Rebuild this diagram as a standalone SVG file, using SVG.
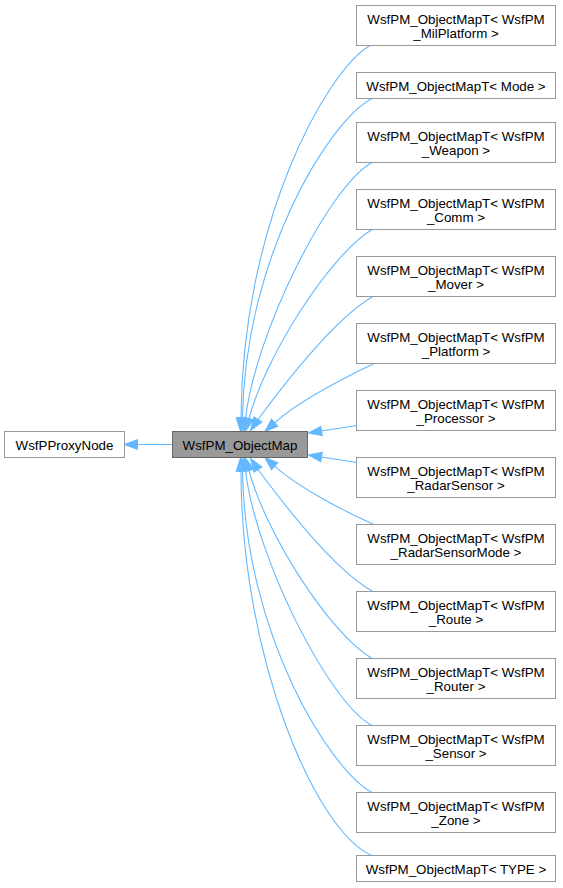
<svg xmlns="http://www.w3.org/2000/svg" width="563" height="888" viewBox="0 0 563 888">
<style>
.n rect{fill:#ffffff;stroke:#999999;stroke-width:1}
#main rect{fill:#999999;stroke:#666666}
text{font-family:"Liberation Sans",Arial,Helvetica,sans-serif;font-size:13.33px;fill:#000000;text-anchor:middle}
.e path{fill:none;stroke:#63b8ff;stroke-width:1.1}
.e polygon{fill:#63b8ff;stroke:#63b8ff;stroke-width:1.1}
</style>
<rect width="563" height="888" fill="#ffffff"/>
<g class="e" id="edges">
<path d="M172.5,444.5 L137.5,444.5"/><polygon points="137.5,439.8 124.5,444.5 137.5,449.2"/>
<path d="M370,45.5 C325,72 242,225 241,418"/><polygon points="236.3,417.8 240.5,431 245.7,418.2"/>
<path d="M372,98.5 C330,120 245,255 242.5,418"/><polygon points="237.8,417.6 241.5,431 247.2,418.4"/>
<path d="M372,162.5 C330,185 256,330 245.5,418.5"/><polygon points="240.9,417.8 243.5,431.5 250.1,419.2"/>
<path d="M372,229.5 C330,255 266,355 249,418.5"/><polygon points="244.5,417.2 245.5,431 253.5,419.8"/>
<path d="M373,296.5 C335,318 285,383 258,419.5"/><polygon points="254.1,416.9 250.5,430.5 261.9,422.1"/>
<path d="M374,363.5 C350,375 300,400 274.6,422.8"/><polygon points="271.5,419.3 265,431.5 277.7,426.3"/>
<path d="M356.5,425.5 L321.5,431"/><polygon points="320.8,426.4 308.5,433 322.2,435.6"/>
<path d="M356.5,462.5 L321.5,457"/><polygon points="322.2,452.4 308.5,455 320.8,461.6"/>
<path d="M374,524.5 C350,514 300,489 274.6,466.2"/><polygon points="271.5,469.7 265,457.5 277.7,462.7"/>
<path d="M373,591.5 C335,571 285,506 258,469.5"/><polygon points="254.1,472.1 250.5,458.5 261.9,466.9"/>
<path d="M372,658.5 C330,634 266,534 249,470.5"/><polygon points="244.5,471.8 245.5,458 253.5,469.2"/>
<path d="M372,725.5 C330,704 256,559 245.5,470.5"/><polygon points="240.9,471.2 243.5,457.5 250.1,469.8"/>
<path d="M372,792.5 C330,770 245,634 242.5,471"/><polygon points="237.8,471.4 241.5,458 247.2,470.6"/>
<path d="M372,855.5 C317,833 241,660 241,471"/><polygon points="245.7,470.8 240.5,458 236.3,471.2"/>
</g>
<g class="n" id="proxy"><rect x="4.5" y="431.5" width="120" height="26"/><text x="64.5" y="449.5">WsfPProxyNode</text></g>
<g class="n" id="main"><rect x="172.5" y="431.5" width="135" height="26"/><text x="240" y="449.5">WsfPM_ObjectMap</text></g>
<g class="n" id="n1"><rect x="356.5" y="5.5" width="199" height="40"/><text x="456" y="23.8">WsfPM_ObjectMapT&lt; WsfPM</text><text x="456" y="38.3">_MilPlatform &gt;</text></g>
<g class="n" id="n2"><rect x="356.5" y="72.5" width="199" height="26"/><text x="456" y="90.8">WsfPM_ObjectMapT&lt; Mode &gt;</text></g>
<g class="n" id="n3"><rect x="356.5" y="122.5" width="199" height="40"/><text x="456" y="140.8">WsfPM_ObjectMapT&lt; WsfPM</text><text x="456" y="155.3">_Weapon &gt;</text></g>
<g class="n" id="n4"><rect x="356.5" y="189.5" width="199" height="40"/><text x="456" y="207.8">WsfPM_ObjectMapT&lt; WsfPM</text><text x="456" y="222.3">_Comm &gt;</text></g>
<g class="n" id="n5"><rect x="356.5" y="256.5" width="199" height="40"/><text x="456" y="274.8">WsfPM_ObjectMapT&lt; WsfPM</text><text x="456" y="289.3">_Mover &gt;</text></g>
<g class="n" id="n6"><rect x="356.5" y="323.5" width="199" height="40"/><text x="456" y="341.8">WsfPM_ObjectMapT&lt; WsfPM</text><text x="456" y="356.3">_Platform &gt;</text></g>
<g class="n" id="n7"><rect x="356.5" y="390.5" width="199" height="40"/><text x="456" y="408.8">WsfPM_ObjectMapT&lt; WsfPM</text><text x="456" y="423.3">_Processor &gt;</text></g>
<g class="n" id="n8"><rect x="356.5" y="457.5" width="199" height="40"/><text x="456" y="475.8">WsfPM_ObjectMapT&lt; WsfPM</text><text x="456" y="490.3">_RadarSensor &gt;</text></g>
<g class="n" id="n9"><rect x="356.5" y="524.5" width="199" height="40"/><text x="456" y="542.8">WsfPM_ObjectMapT&lt; WsfPM</text><text x="456" y="557.3">_RadarSensorMode &gt;</text></g>
<g class="n" id="n10"><rect x="356.5" y="591.5" width="199" height="40"/><text x="456" y="609.8">WsfPM_ObjectMapT&lt; WsfPM</text><text x="456" y="624.3">_Route &gt;</text></g>
<g class="n" id="n11"><rect x="356.5" y="658.5" width="199" height="40"/><text x="456" y="676.8">WsfPM_ObjectMapT&lt; WsfPM</text><text x="456" y="691.3">_Router &gt;</text></g>
<g class="n" id="n12"><rect x="356.5" y="725.5" width="199" height="40"/><text x="456" y="743.8">WsfPM_ObjectMapT&lt; WsfPM</text><text x="456" y="758.3">_Sensor &gt;</text></g>
<g class="n" id="n13"><rect x="356.5" y="792.5" width="199" height="40"/><text x="456" y="810.8">WsfPM_ObjectMapT&lt; WsfPM</text><text x="456" y="825.3">_Zone &gt;</text></g>
<g class="n" id="n14"><rect x="356.5" y="855.5" width="199" height="26"/><text x="456" y="873.8">WsfPM_ObjectMapT&lt; TYPE &gt;</text></g>
</svg>
